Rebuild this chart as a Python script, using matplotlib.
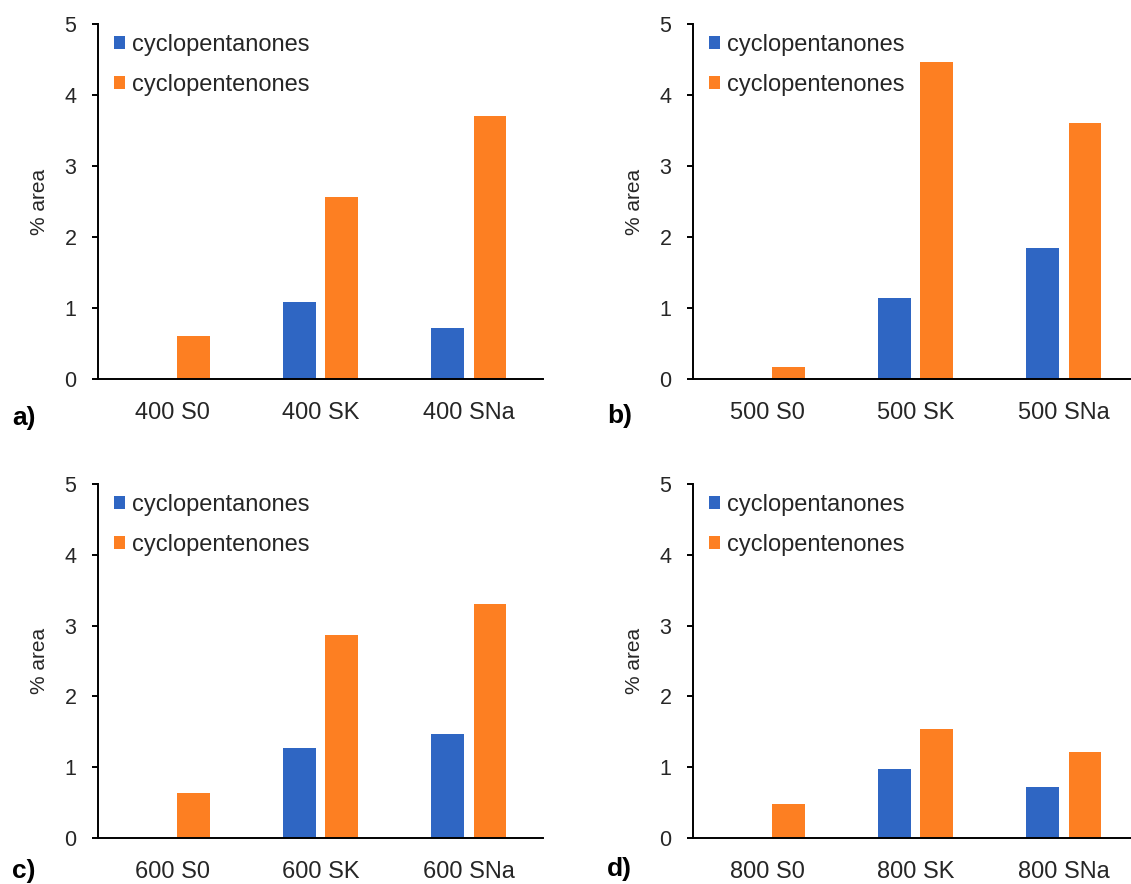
import matplotlib
matplotlib.use("Agg")
import matplotlib.pyplot as plt
import numpy as np

plt.rcParams['font.family'] = ['Liberation Sans', 'DejaVu Sans']

# values (% area)
samples = ["S0", "SK", "SNa"]
temps = ["400", "500", "600", "800"]
panel_tags = ["a)", "b)", "c)", "d)"]

cyclopentanones_400 = [0.0, 1.09, 0.72]
cyclopentenones_400 = [0.61, 2.56, 3.70]
cyclopentanones_500 = [0.0, 1.14, 1.85]
cyclopentenones_500 = [0.165, 4.46, 3.61]
cyclopentanones_600 = [0.0, 1.27, 1.475]
cyclopentenones_600 = [0.64, 2.87, 3.30]
cyclopentanones_800 = [0.0, 0.98, 0.72]
cyclopentenones_800 = [0.485, 1.54, 1.22]

anones = [cyclopentanones_400, cyclopentanones_500, cyclopentanones_600, cyclopentanones_800]
enones = [cyclopentenones_400, cyclopentenones_500, cyclopentenones_600, cyclopentenones_800]

blue = "#2F66C3"
orange = "#FD7F22"
txt = "#262626"

W, H = 1131, 884
fig = plt.figure(figsize=(W / 100, H / 100), dpi=100)

# axes boxes in pixels: left, top(5), zero line
boxes = [(98, 24, 379), (693, 24, 379), (98, 484, 838), (693, 484, 838)]
ax_w = 445
tag_pos = [(12, 418), (607, 416), (12, 871), (607, 869)]

x = np.arange(len(samples))
bw = 0.22
off = 0.142

for i in range(4):
    left, top, zero = boxes[i]
    ax = fig.add_axes([left / W, 1 - zero / H, ax_w / W, (zero - top) / H])
    ax.bar(x - off, anones[i], bw, color=blue, label="cyclopentanones")
    ax.bar(x + off, enones[i], bw, color=orange, label="cyclopentenones")
    ax.set_xlim(-0.5, 2.5)
    ax.set_ylim(0, 5)
    ax.set_yticks(range(6))
    ax.set_xticks(x)
    ax.set_xticklabels([temps[i] + " " + s for s in samples])
    for s in ["top", "right"]:
        ax.spines[s].set_visible(False)
    for s in ["left", "bottom"]:
        ax.spines[s].set_linewidth(1.4)
        ax.spines[s].set_color("black")
    ax.tick_params(axis="y", length=4.5, width=1.4, pad=11, labelsize=15.5, labelcolor=txt)
    ax.tick_params(axis="x", length=0, pad=16.5, labelsize=17, labelcolor=txt)
    ax.set_ylabel("% area", fontsize=15, color=txt)
    ax.yaxis.set_label_coords(-0.11, 0.5)
    ax.legend(loc="upper left", bbox_to_anchor=(0.036, 0.971), frameon=False,
              fontsize=17, handlelength=0.48, handleheight=0.48, handletextpad=0.3,
              labelspacing=0.73, borderpad=0, borderaxespad=0, labelcolor=txt)
    fig.text(tag_pos[i][0] / W, 1 - tag_pos[i][1] / H, panel_tags[i],
             fontsize=19, fontweight="bold", ha="left", va="center", color="black")

fig.savefig("out.png", dpi=100)
